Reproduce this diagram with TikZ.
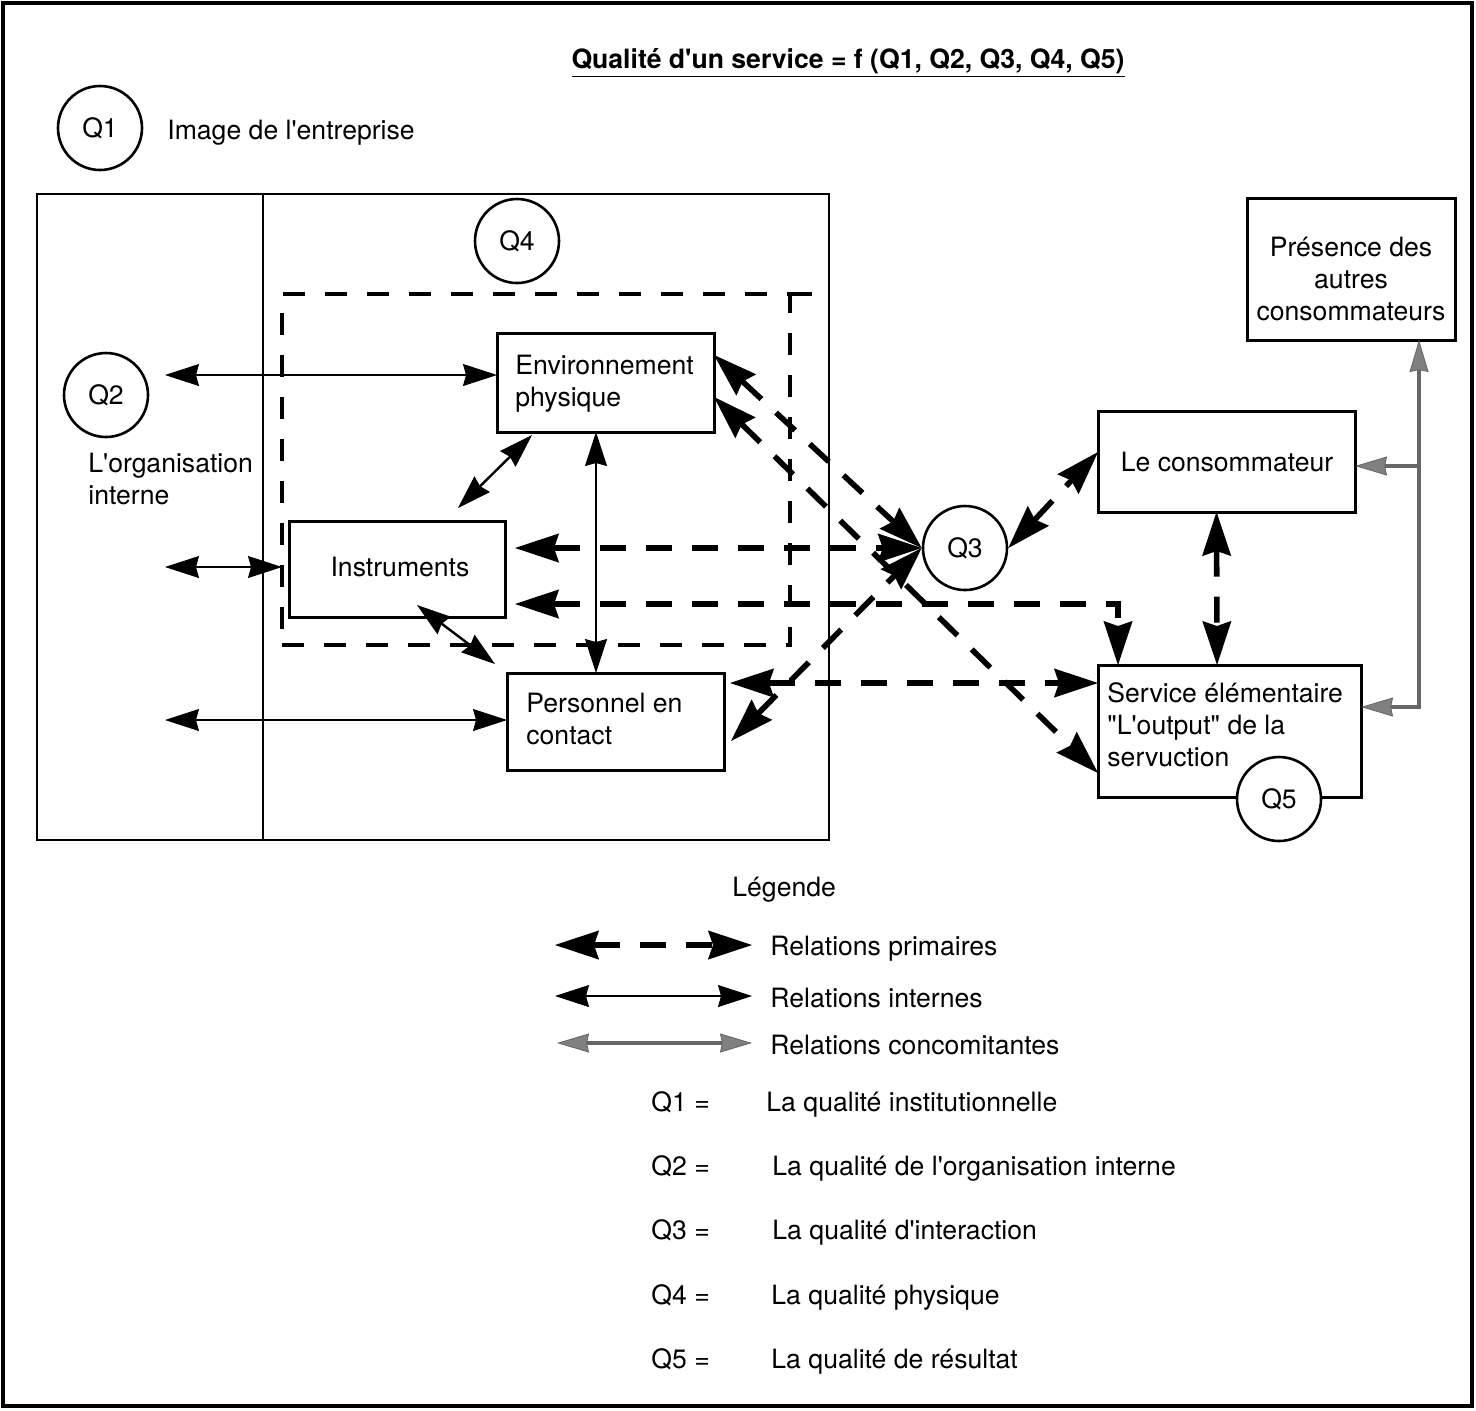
\documentclass[tikz,border=0pt]{standalone}
\usepackage{fontspec}
\setmainfont{TeX Gyre Heros}[Ligatures=TeXOff]
\usetikzlibrary{arrows.meta}

\begin{document}
\begin{tikzpicture}[x=0.5pt,y=-0.5pt,
  txt/.style={inner sep=0pt, font=\fontsize{13.3pt}{16pt}\selectfont},
  box/.style={draw, line width=1.5pt, inner sep=0pt, outer sep=0pt},
  qcircle/.style={draw, circle, line width=1.3pt, minimum size=42pt, inner sep=0pt,
    fill=white, font=\fontsize{13.3pt}{16pt}\selectfont},
  zonedash/.style={line width=1.6pt, dash pattern=on 11pt off 10pt},
  internal/.style={line width=1.2pt,
    arrows={Stealth[length=17pt,width=11pt,inset=1.5pt,line width=0.5pt]-Stealth[length=17pt,width=11pt,inset=1.5pt,line width=0.5pt]}},
  primary/.style={line width=2.8pt, dash pattern=on 13pt off 10pt,
    arrows={Stealth[length=22pt,width=14.5pt,inset=2.5pt,line width=0.6pt]-Stealth[length=22pt,width=14.5pt,inset=2.5pt,line width=0.6pt]}},
  concom/.style={line width=1.6pt, draw=black!60,
    arrows={Stealth[length=16pt,width=9.5pt,inset=1pt,line width=0.4pt,fill=black!50]-Stealth[length=16pt,width=9.5pt,inset=1pt,line width=0.4pt,fill=black!50]}},
  concomend/.style={line width=1.6pt, draw=black!60,
    arrows={-Stealth[length=16pt,width=9.5pt,inset=1pt,line width=0.4pt,fill=black!50]}},
]
\useasboundingbox (0,0) rectangle (1476,1410);

% outer frame
\draw[line width=1.8pt] (3,3) rectangle (1472,1406);

% title
\node[txt, anchor=base, font=\fontsize{13.3pt}{16pt}\selectfont\bfseries] (title) at (848,68)
  {\underline{Qualité d'un service = f (Q1, Q2, Q3, Q4, Q5)}};

% Q1 and company image
\node[qcircle] (q1) at (100,128) {Q1};
\node[txt, anchor=base west] (image) at (167,139) {Image de l'entreprise};

% organisation block with its divider
\node[draw, line width=1.3pt, inner sep=0pt, outer sep=0pt,
  minimum width=396pt, minimum height=323pt] (org) at (433,517) {};
\draw[line width=1.3pt] (263,194) -- (263,840);

% physical zone (Q4)
\node[draw, zonedash, inner sep=0pt, outer sep=0pt,
  minimum width=254pt, minimum height=175.5pt] (zone) at (536,469.5) {};
\draw[zonedash] (zone.north east) -- (org.east |- zone.north);
\node[qcircle] (q4) at (517,241) {Q4};

% Q2 and its caption
\node[qcircle] (q2) at (106,395) {Q2};
\node[txt, anchor=base west] (org1) at (88,472) {L'organisation};
\node[txt, anchor=base west] (org2) at (88,504) {interne};

% boxes
\node[box, minimum width=108.5pt, minimum height=49.5pt] (env) at (605.5,382.5) {};
\node[txt, anchor=base west] (env1) at (515,374) {Environnement};
\node[txt, anchor=base west] (env2) at (515,406) {physique};

\node[box, minimum width=108pt, minimum height=48pt] (instr) at (397,569) {};
\node[txt, anchor=base] (instr1) at (400,576) {Instruments};

\node[box, minimum width=108.5pt, minimum height=48.5pt] (pers) at (615.5,721.5) {};
\node[txt, anchor=base west] (pers1) at (526,712) {Personnel en};
\node[txt, anchor=base west] (pers2) at (526,744) {contact};

\node[box, minimum width=128.5pt, minimum height=50.5pt] (cons) at (1226.5,461.5) {};
\node[txt, anchor=base] (cons1) at (1227,471) {Le consommateur};

\node[box, minimum width=131.5pt, minimum height=66pt] (serv) at (1229.5,731) {};
\node[txt, anchor=base west] (serv1) at (1107,702) {Service élémentaire};
\node[txt, anchor=base west] (serv2) at (1107,734) {"L'output" de la};
\node[txt, anchor=base west] (serv3) at (1107,766) {servuction};
\node[qcircle] (q5) at (1279,799) {Q5};

\node[box, minimum width=104pt, minimum height=71pt] (pres) at (1351,269) {};
\node[txt, anchor=base] (pres1) at (1351,256) {Présence des};
\node[txt, anchor=base] (pres2) at (1351,288) {autres};
\node[txt, anchor=base] (pres3) at (1351,320) {consommateurs};

\node[qcircle] (q3) at (965,548) {Q3};

% internal relations
\coordinate (lq2) at (165,375);
\coordinate (lin) at (165,567);
\coordinate (lpe) at (165,720);
\draw[internal] (lq2) -- (lq2 -| env.west);
\draw[internal] (lin) -- (lin -| zone.west);
\draw[internal] (lpe) -- (lpe -| pers.west);
\draw[internal] ([xshift=17.5pt,yshift=-1.5pt]env.south west) -- ([xshift=30.5pt,yshift=6.5pt]instr.north);
\draw[internal] ([xshift=-4.75pt]env.south) -- ([xshift=-9.75pt]pers.north);
\draw[internal] ([xshift=10pt,yshift=6pt]instr.south) -- ([xshift=-6pt,yshift=4.5pt]pers.north west);

% primary relations
\draw[primary] ([yshift=13.75pt]env.east) -- (q3.west);
\draw[primary] ([yshift=-7.25pt]env.east) -- ([yshift=-21pt]serv.west);
\draw[primary] ([xshift=5pt,yshift=10.5pt]instr.east) -- (q3.west);
\draw[primary] ([xshift=5pt,yshift=-17.5pt]instr.east) -| ([xshift=-55.75pt]serv.north);
\draw[primary] ([xshift=3pt,yshift=19.25pt]pers.east) -- ([yshift=24pt]serv.west);
\draw[primary] ([xshift=3.5pt,yshift=-9.75pt]pers.east) -- (q3.west);
\draw[primary] (q3.east) -- ([yshift=4.75pt]cons.west);
\draw[primary] ([xshift=-5pt]cons.south) -- ([xshift=-6.25pt]serv.north);

% concomitant relations
\draw[concom] ([xshift=34pt]pres.south) |- ([yshift=12pt]serv.east);
\coordinate (cj) at (1419,466);
\draw[concomend] (cj) -- (cj -| cons.east);

% legend
\node[txt, anchor=base west] (leg) at (732,896) {Légende};
\coordinate (lp1) at (555,945);  \coordinate (lp2) at (752,945);
\coordinate (li1) at (555,996);  \coordinate (li2) at (752,996);
\coordinate (lc1) at (557,1043); \coordinate (lc2) at (752,1043);
\draw[primary] (lp1) -- (lp2);
\draw[internal, line width=1.4pt] (li1) -- (li2);
\draw[concom] (lc1) -- (lc2);
\node[txt, anchor=base west] (rp) at (770,955) {Relations primaires};
\node[txt, anchor=base west] (ri) at (770,1007) {Relations internes};
\node[txt, anchor=base west] (rc) at (770,1054) {Relations concomitantes};

\node[txt, anchor=base west] (d1) at (651,1111) {Q1 =};
\node[txt, anchor=base west] (e1) at (766,1111) {La qualité institutionnelle};
\node[txt, anchor=base west] (d2) at (651,1175) {Q2 =};
\node[txt, anchor=base west] (e2) at (772,1175) {La qualité de l'organisation interne};
\node[txt, anchor=base west] (d3) at (651,1239) {Q3 =};
\node[txt, anchor=base west] (e3) at (772,1239) {La qualité d'interaction};
\node[txt, anchor=base west] (d4) at (651,1304) {Q4 =};
\node[txt, anchor=base west] (e4) at (771,1304) {La qualité physique};
\node[txt, anchor=base west] (d5) at (651,1368) {Q5 =};
\node[txt, anchor=base west] (e5) at (771,1368) {La qualité de résultat};
\end{tikzpicture}
\end{document}
